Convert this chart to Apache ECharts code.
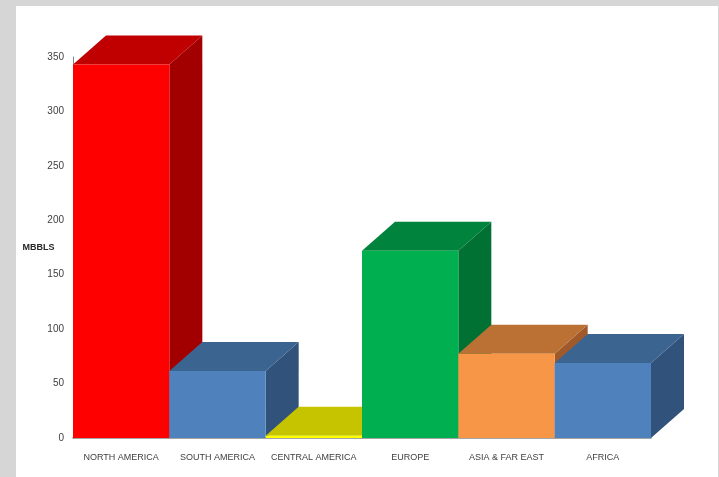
<!DOCTYPE html>
<html>
<head>
<meta charset="utf-8">
<script src="https://cdn.jsdelivr.net/npm/echarts@6/dist/echarts.min.js"></script>
<style>
html,body{margin:0;padding:0;background:#d6d6d6;}
#c{width:719px;height:477px;}
</style>
</head>
<body>
<div id="c"></div>
<script>
const categories = ['NORTH AMERICA', 'SOUTH AMERICA', 'CENTRAL AMERICA', 'EUROPE', 'ASIA & FAR EAST', 'AFRICA'];
const values = [343, 61.5, 2, 172, 77.5, 69];
const yTicks = { min: 0, max: 350, interval: 50 };
const axisName = 'MBBLS';

const frontColors = ['#ff0000', '#4f81bd', '#ffff00', '#00b050', '#f79646', '#4f81bd'];
const topColors   = ['#c00000', '#3c6491', '#c6c400', '#00843d', '#bb7133', '#3c6491'];
const sideColors  = ['#a20000', '#31527b', '#a6a400', '#007133', '#a05a2a', '#31527b'];

const FONT = "'Liberation Sans', Arial, sans-serif";
const DX = 33, DY = -29;

const chart = echarts.init(document.getElementById('c'), null, { renderer: 'canvas' });

function renderItem(params, api) {
  const idx = params.dataIndex;
  const xi = api.value(0);
  const v = api.value(1);
  const base = api.coord([xi, 0]);
  const top = api.coord([xi, v]);
  const w = api.size([1, 0])[0];
  const x0 = base[0] - w / 2, x1 = base[0] + w / 2;
  const y0 = base[1], y1 = top[1];
  return {
    type: 'group',
    children: [
      { type: 'polygon', shape: { points: [[x1, y1], [x1 + DX, y1 + DY], [x1 + DX, y0 + DY], [x1, y0]] },
        style: { fill: sideColors[idx] } },
      { type: 'polygon', shape: { points: [[x0, y1], [x1, y1], [x1 + DX, y1 + DY], [x0 + DX, y1 + DY]] },
        style: { fill: topColors[idx] } },
      { type: 'rect', shape: { x: x0, y: y1, width: w, height: y0 - y1 },
        style: { fill: frontColors[idx] } }
    ]
  };
}

chart.setOption({
  backgroundColor: '#d6d6d6',
  animation: false,
  graphic: [
    { type: 'rect', z: -10, shape: { x: 16, y: 6, width: 702, height: 471 }, style: { fill: '#ffffff' } },
    { type: 'text', z: 10, style: { text: axisName, x: 38.5, y: 248, align: 'center', verticalAlign: 'middle',
      font: "bold 9px " + FONT, fill: '#262626' } }
  ],
  grid: { left: 73, right: 68, top: 57, bottom: 39 },
  xAxis: {
    type: 'category',
    data: categories,
    boundaryGap: true,
    axisLine: { show: true, lineStyle: { color: '#868686', width: 1.5 } },
    axisTick: { show: false },
    axisLabel: { color: '#404040', fontSize: 9, fontFamily: FONT, margin: 15, interval: 0 }
  },
  yAxis: {
    type: 'value',
    min: yTicks.min, max: yTicks.max, interval: yTicks.interval,
    axisLine: { show: true, lineStyle: { color: '#868686', width: 1 } },
    axisTick: { show: false },
    splitLine: { show: false },
    axisLabel: { color: '#404040', fontSize: 10, fontFamily: FONT, margin: 9 }
  },
  series: [{
    type: 'custom',
    renderItem: renderItem,
    encode: { x: 0, y: 1 },
    data: values.map((v, i) => [i, v])
  }]
});
</script>
</body>
</html>
